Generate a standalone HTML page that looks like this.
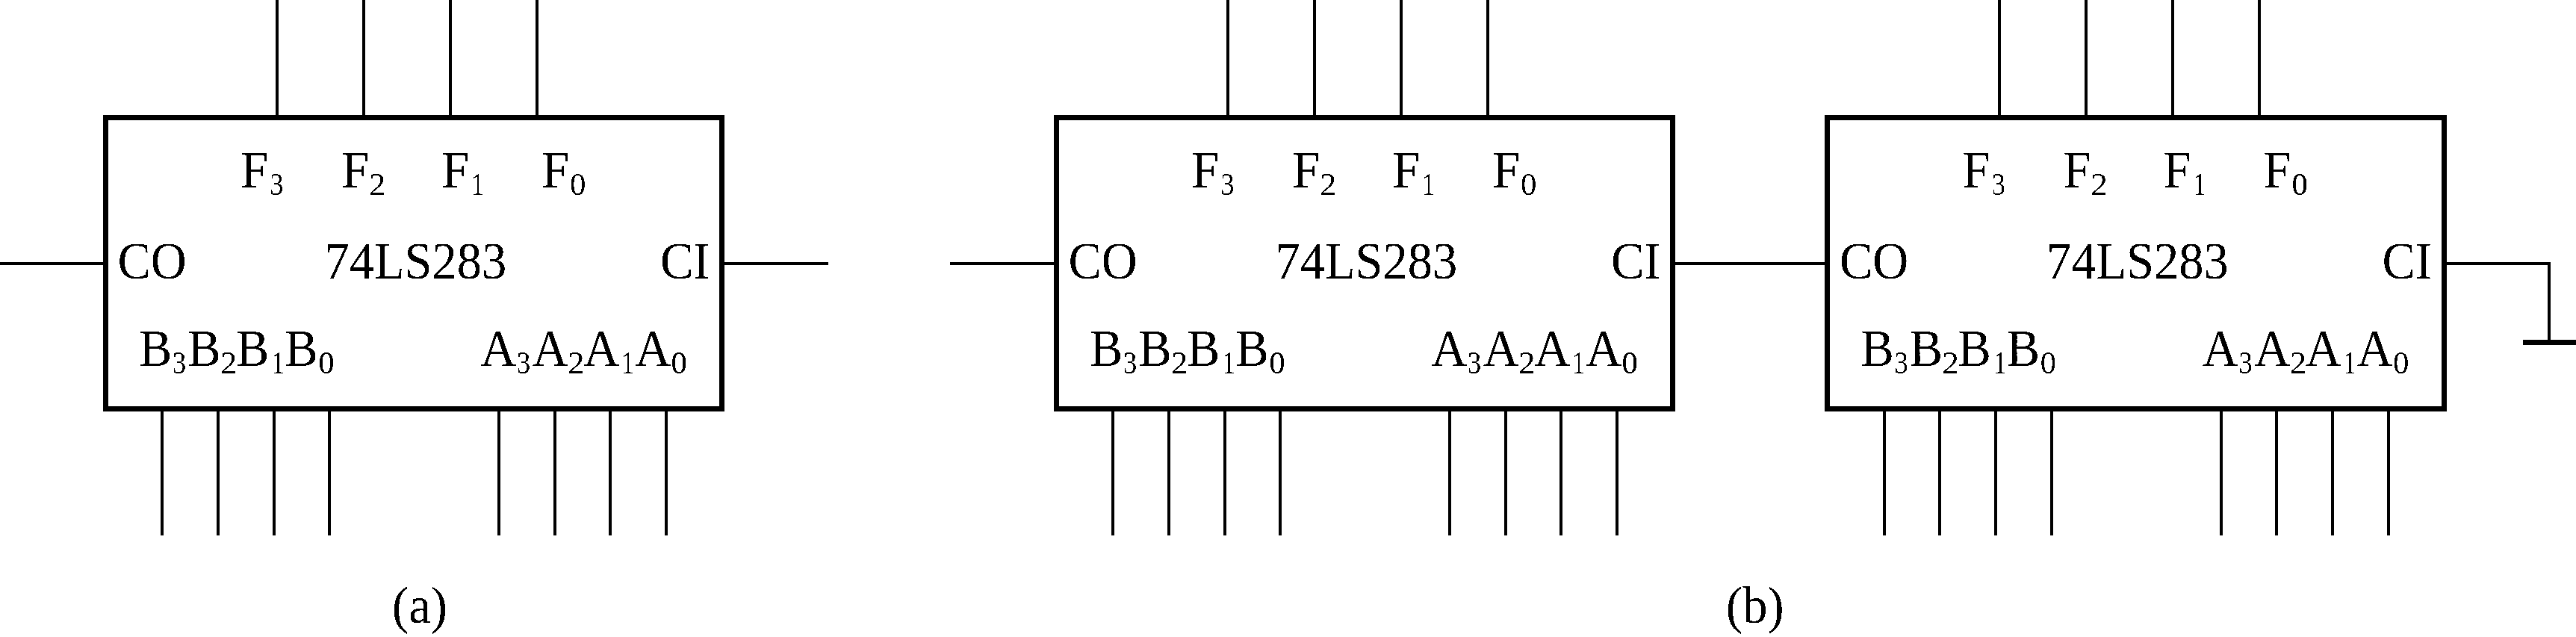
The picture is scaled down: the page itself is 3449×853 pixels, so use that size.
<!DOCTYPE html>
<html><head><meta charset="utf-8"><style>
html,body{margin:0;padding:0;background:#fff;width:3449px;height:853px;overflow:hidden}
svg{display:block}
text{font-family:"Liberation Serif",serif;fill:#000}
</style></head><body>
<svg width="3449" height="853" viewBox="0 0 3449 853" shape-rendering="crispEdges">
<defs><filter id="bin" x="0" y="0" width="3449" height="853" filterUnits="userSpaceOnUse" color-interpolation-filters="sRGB"><feComponentTransfer><feFuncA type="discrete" tableValues="0 1"/></feComponentTransfer></filter></defs>
<g fill="#000" filter="url(#bin)">
<rect x="138" y="154" width="832" height="7"/>
<rect x="138" y="544" width="832" height="7"/>
<rect x="138" y="154" width="7" height="397"/>
<rect x="963" y="154" width="7" height="397"/>
<rect x="369" y="0" width="4" height="154"/>
<rect x="485" y="0" width="4" height="154"/>
<rect x="601" y="0" width="4" height="154"/>
<rect x="717" y="0" width="4" height="154"/>
<rect x="215" y="551" width="4" height="166"/>
<rect x="290" y="551" width="4" height="166"/>
<rect x="365" y="551" width="4" height="166"/>
<rect x="439" y="551" width="4" height="166"/>
<rect x="666" y="551" width="4" height="166"/>
<rect x="741" y="551" width="4" height="166"/>
<rect x="815" y="551" width="4" height="166"/>
<rect x="890" y="551" width="4" height="166"/>
<text transform="translate(322.10 251.00) scale(1 1.04)" font-size="66.5">F</text>
<text transform="translate(362.90 261.00) scale(0.88 1.04)" x="-1.99" font-size="41.5">3</text>
<text transform="translate(457.10 251.00) scale(1 1.04)" font-size="66.5">F</text>
<text transform="translate(495.90 261.00) scale(1.08 1.04)" x="-1.82" font-size="41.5">2</text>
<text transform="translate(590.90 251.00) scale(1 1.04)" font-size="66.5">F</text>
<text transform="translate(634.00 261.00) scale(0.82 1.04)" x="-3.65" font-size="41.5">1</text>
<text transform="translate(725.00 251.00) scale(1 1.04)" font-size="66.5">F</text>
<text transform="translate(764.60 261.00) scale(1.03 1.04)" x="-1.58" font-size="41.5">0</text>
<text transform="translate(157.40 372.50) scale(1 1.04)" font-size="66.5">CO</text>
<text transform="translate(434.50 372.70) scale(1 1.04)" font-size="66.5">74LS283</text>
<text transform="translate(884.00 372.50) scale(1 1.04)" font-size="66.5">CI</text>
<text transform="translate(186.00 490.00) scale(1 1.04)" font-size="66.5">B</text>
<text transform="translate(232.70 500.00) scale(0.88 1.04)" x="-1.99" font-size="41.5">3</text>
<text transform="translate(251.20 490.00) scale(1 1.04)" font-size="66.5">B</text>
<text transform="translate(297.00 500.00) scale(1.08 1.04)" x="-1.82" font-size="41.5">2</text>
<text transform="translate(316.00 490.00) scale(1 1.04)" font-size="66.5">B</text>
<text transform="translate(366.80 500.00) scale(0.82 1.04)" x="-3.65" font-size="41.5">1</text>
<text transform="translate(381.20 490.00) scale(1 1.04)" font-size="66.5">B</text>
<text transform="translate(427.80 500.00) scale(1.03 1.04)" x="-1.58" font-size="41.5">0</text>
<text transform="translate(643.35 490.00) scale(1 1.04)" font-size="66.5">A</text>
<text transform="translate(693.80 500.00) scale(0.88 1.04)" x="-1.99" font-size="41.5">3</text>
<text transform="translate(712.65 490.00) scale(1 1.04)" font-size="66.5">A</text>
<text transform="translate(762.20 500.00) scale(1.08 1.04)" x="-1.82" font-size="41.5">2</text>
<text transform="translate(781.35 490.00) scale(1 1.04)" font-size="66.5">A</text>
<text transform="translate(835.00 500.00) scale(0.82 1.04)" x="-3.65" font-size="41.5">1</text>
<text transform="translate(850.25 490.00) scale(1 1.04)" font-size="66.5">A</text>
<text transform="translate(900.20 500.00) scale(1.03 1.04)" x="-1.58" font-size="41.5">0</text>
<rect x="0" y="351" width="138" height="4"/>
<rect x="970" y="351" width="139" height="4"/>
<rect x="1411" y="154" width="832" height="7"/>
<rect x="1411" y="544" width="832" height="7"/>
<rect x="1411" y="154" width="7" height="397"/>
<rect x="2236" y="154" width="7" height="397"/>
<rect x="1642" y="0" width="4" height="154"/>
<rect x="1758" y="0" width="4" height="154"/>
<rect x="1874" y="0" width="4" height="154"/>
<rect x="1990" y="0" width="4" height="154"/>
<rect x="1488" y="551" width="4" height="166"/>
<rect x="1563" y="551" width="4" height="166"/>
<rect x="1638" y="551" width="4" height="166"/>
<rect x="1712" y="551" width="4" height="166"/>
<rect x="1939" y="551" width="4" height="166"/>
<rect x="2014" y="551" width="4" height="166"/>
<rect x="2088" y="551" width="4" height="166"/>
<rect x="2163" y="551" width="4" height="166"/>
<text transform="translate(1595.10 251.00) scale(1 1.04)" font-size="66.5">F</text>
<text transform="translate(1635.90 261.00) scale(0.88 1.04)" x="-1.99" font-size="41.5">3</text>
<text transform="translate(1730.10 251.00) scale(1 1.04)" font-size="66.5">F</text>
<text transform="translate(1768.90 261.00) scale(1.08 1.04)" x="-1.82" font-size="41.5">2</text>
<text transform="translate(1863.90 251.00) scale(1 1.04)" font-size="66.5">F</text>
<text transform="translate(1907.00 261.00) scale(0.82 1.04)" x="-3.65" font-size="41.5">1</text>
<text transform="translate(1998.00 251.00) scale(1 1.04)" font-size="66.5">F</text>
<text transform="translate(2037.60 261.00) scale(1.03 1.04)" x="-1.58" font-size="41.5">0</text>
<text transform="translate(1430.40 372.50) scale(1 1.04)" font-size="66.5">CO</text>
<text transform="translate(1707.50 372.70) scale(1 1.04)" font-size="66.5">74LS283</text>
<text transform="translate(2157.00 372.50) scale(1 1.04)" font-size="66.5">CI</text>
<text transform="translate(1459.00 490.00) scale(1 1.04)" font-size="66.5">B</text>
<text transform="translate(1505.70 500.00) scale(0.88 1.04)" x="-1.99" font-size="41.5">3</text>
<text transform="translate(1524.20 490.00) scale(1 1.04)" font-size="66.5">B</text>
<text transform="translate(1570.00 500.00) scale(1.08 1.04)" x="-1.82" font-size="41.5">2</text>
<text transform="translate(1589.00 490.00) scale(1 1.04)" font-size="66.5">B</text>
<text transform="translate(1639.80 500.00) scale(0.82 1.04)" x="-3.65" font-size="41.5">1</text>
<text transform="translate(1654.20 490.00) scale(1 1.04)" font-size="66.5">B</text>
<text transform="translate(1700.80 500.00) scale(1.03 1.04)" x="-1.58" font-size="41.5">0</text>
<text transform="translate(1916.35 490.00) scale(1 1.04)" font-size="66.5">A</text>
<text transform="translate(1966.80 500.00) scale(0.88 1.04)" x="-1.99" font-size="41.5">3</text>
<text transform="translate(1985.65 490.00) scale(1 1.04)" font-size="66.5">A</text>
<text transform="translate(2035.20 500.00) scale(1.08 1.04)" x="-1.82" font-size="41.5">2</text>
<text transform="translate(2054.35 490.00) scale(1 1.04)" font-size="66.5">A</text>
<text transform="translate(2108.00 500.00) scale(0.82 1.04)" x="-3.65" font-size="41.5">1</text>
<text transform="translate(2123.25 490.00) scale(1 1.04)" font-size="66.5">A</text>
<text transform="translate(2173.20 500.00) scale(1.03 1.04)" x="-1.58" font-size="41.5">0</text>
<rect x="1272" y="351" width="139" height="4"/>
<rect x="2243" y="351" width="200" height="4"/>
<rect x="2443" y="154" width="833" height="7"/>
<rect x="2443" y="544" width="833" height="7"/>
<rect x="2443" y="154" width="7" height="397"/>
<rect x="3269" y="154" width="7" height="397"/>
<rect x="2675" y="0" width="4" height="154"/>
<rect x="2791" y="0" width="4" height="154"/>
<rect x="2907" y="0" width="4" height="154"/>
<rect x="3023" y="0" width="4" height="154"/>
<rect x="2521" y="551" width="4" height="166"/>
<rect x="2595" y="551" width="4" height="166"/>
<rect x="2670" y="551" width="4" height="166"/>
<rect x="2745" y="551" width="4" height="166"/>
<rect x="2972" y="551" width="4" height="166"/>
<rect x="3046" y="551" width="4" height="166"/>
<rect x="3121" y="551" width="4" height="166"/>
<rect x="3196" y="551" width="4" height="166"/>
<text transform="translate(2627.60 251.00) scale(1 1.04)" font-size="66.5">F</text>
<text transform="translate(2668.40 261.00) scale(0.88 1.04)" x="-1.99" font-size="41.5">3</text>
<text transform="translate(2762.60 251.00) scale(1 1.04)" font-size="66.5">F</text>
<text transform="translate(2801.40 261.00) scale(1.08 1.04)" x="-1.82" font-size="41.5">2</text>
<text transform="translate(2896.40 251.00) scale(1 1.04)" font-size="66.5">F</text>
<text transform="translate(2939.50 261.00) scale(0.82 1.04)" x="-3.65" font-size="41.5">1</text>
<text transform="translate(3030.50 251.00) scale(1 1.04)" font-size="66.5">F</text>
<text transform="translate(3070.10 261.00) scale(1.03 1.04)" x="-1.58" font-size="41.5">0</text>
<text transform="translate(2462.90 372.50) scale(1 1.04)" font-size="66.5">CO</text>
<text transform="translate(2740.00 372.70) scale(1 1.04)" font-size="66.5">74LS283</text>
<text transform="translate(3189.50 372.50) scale(1 1.04)" font-size="66.5">CI</text>
<text transform="translate(2491.50 490.00) scale(1 1.04)" font-size="66.5">B</text>
<text transform="translate(2538.20 500.00) scale(0.88 1.04)" x="-1.99" font-size="41.5">3</text>
<text transform="translate(2556.70 490.00) scale(1 1.04)" font-size="66.5">B</text>
<text transform="translate(2602.50 500.00) scale(1.08 1.04)" x="-1.82" font-size="41.5">2</text>
<text transform="translate(2621.50 490.00) scale(1 1.04)" font-size="66.5">B</text>
<text transform="translate(2672.30 500.00) scale(0.82 1.04)" x="-3.65" font-size="41.5">1</text>
<text transform="translate(2686.70 490.00) scale(1 1.04)" font-size="66.5">B</text>
<text transform="translate(2733.30 500.00) scale(1.03 1.04)" x="-1.58" font-size="41.5">0</text>
<text transform="translate(2948.85 490.00) scale(1 1.04)" font-size="66.5">A</text>
<text transform="translate(2999.30 500.00) scale(0.88 1.04)" x="-1.99" font-size="41.5">3</text>
<text transform="translate(3018.15 490.00) scale(1 1.04)" font-size="66.5">A</text>
<text transform="translate(3067.70 500.00) scale(1.08 1.04)" x="-1.82" font-size="41.5">2</text>
<text transform="translate(3086.85 490.00) scale(1 1.04)" font-size="66.5">A</text>
<text transform="translate(3140.50 500.00) scale(0.82 1.04)" x="-3.65" font-size="41.5">1</text>
<text transform="translate(3155.75 490.00) scale(1 1.04)" font-size="66.5">A</text>
<text transform="translate(3205.70 500.00) scale(1.03 1.04)" x="-1.58" font-size="41.5">0</text>
<rect x="3276" y="351" width="139" height="4"/>
<rect x="3411" y="351" width="4" height="104"/>
<rect x="3378" y="455" width="71" height="7"/>
<text transform="translate(525.00 834.30) scale(1 1.04)" font-size="66.5">(a)</text>
<text transform="translate(2311.10 834.30) scale(1 1.04)" font-size="66.5">(b)</text>
</g>
</svg>
</body></html>
